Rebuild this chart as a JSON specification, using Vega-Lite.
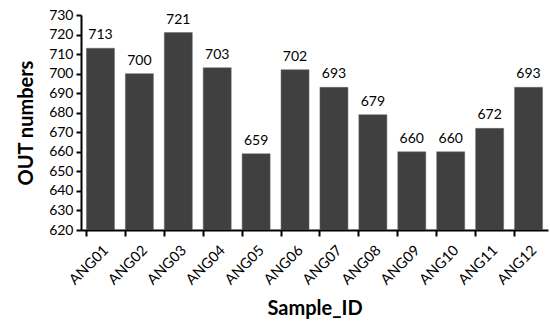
{
  "$schema": "https://vega.github.io/schema/vega-lite/v6.json",
  "width": 467,
  "height": 215,
  "autosize": {"type": "none"},
  "padding": {"left": 81, "top": 15, "right": 2, "bottom": 96},
  "background": "white",
  "config": {"view": {"stroke": null}, "font": "Lato"},
  "data": {"values": [
    {"Sample_ID": "ANG01", "OUT": 713},
    {"Sample_ID": "ANG02", "OUT": 700},
    {"Sample_ID": "ANG03", "OUT": 721},
    {"Sample_ID": "ANG04", "OUT": 703},
    {"Sample_ID": "ANG05", "OUT": 659},
    {"Sample_ID": "ANG06", "OUT": 702},
    {"Sample_ID": "ANG07", "OUT": 693},
    {"Sample_ID": "ANG08", "OUT": 679},
    {"Sample_ID": "ANG09", "OUT": 660},
    {"Sample_ID": "ANG10", "OUT": 660},
    {"Sample_ID": "ANG11", "OUT": 672},
    {"Sample_ID": "ANG12", "OUT": 693}
  ]},
  "encoding": {
    "x": {
      "field": "Sample_ID", "type": "nominal", "sort": null,
      "scale": {"paddingInner": 0.28, "paddingOuter": 0.14},
      "axis": {
        "title": "Sample_ID", "titleFontSize": 20, "titleFontWeight": "bold", "titleColor": "black",
        "titlePadding": 12, "labelAngle": -45, "labelFontSize": 14.5, "labelColor": "black",
        "labelAlign": "right", "labelBaseline": "middle", "labelPadding": 12,
        "bandPosition": 0, "domainColor": "black", "domainWidth": 2, "tickColor": "black",
        "tickWidth": 2, "tickSize": 6, "labelOffset": 6
      }
    },
    "y": {
      "field": "OUT", "type": "quantitative",
      "scale": {"domain": [620, 730], "zero": false, "nice": false},
      "axis": {
        "title": "OUT numbers", "titleFontSize": 20, "titleFontWeight": "bold", "titleColor": "black",
        "titlePadding": 12, "values": [620,630,640,650,660,670,680,690,700,710,720,730],
        "labelFontSize": 14, "labelColor": "black", "grid": false, "domainColor": "black",
        "domainWidth": 2, "tickColor": "black", "tickWidth": 2, "tickSize": 5, "labelPadding": 3
      }
    }
  },
  "layer": [
    {"mark": {"type": "bar", "color": "#404040", "stroke": "#666666", "strokeWidth": 0.5, "clip": true}},
    {"mark": {"type": "text", "dy": -13, "fontSize": 14, "color": "black"},
     "encoding": {"text": {"field": "OUT", "type": "quantitative"}}}
  ]
}
